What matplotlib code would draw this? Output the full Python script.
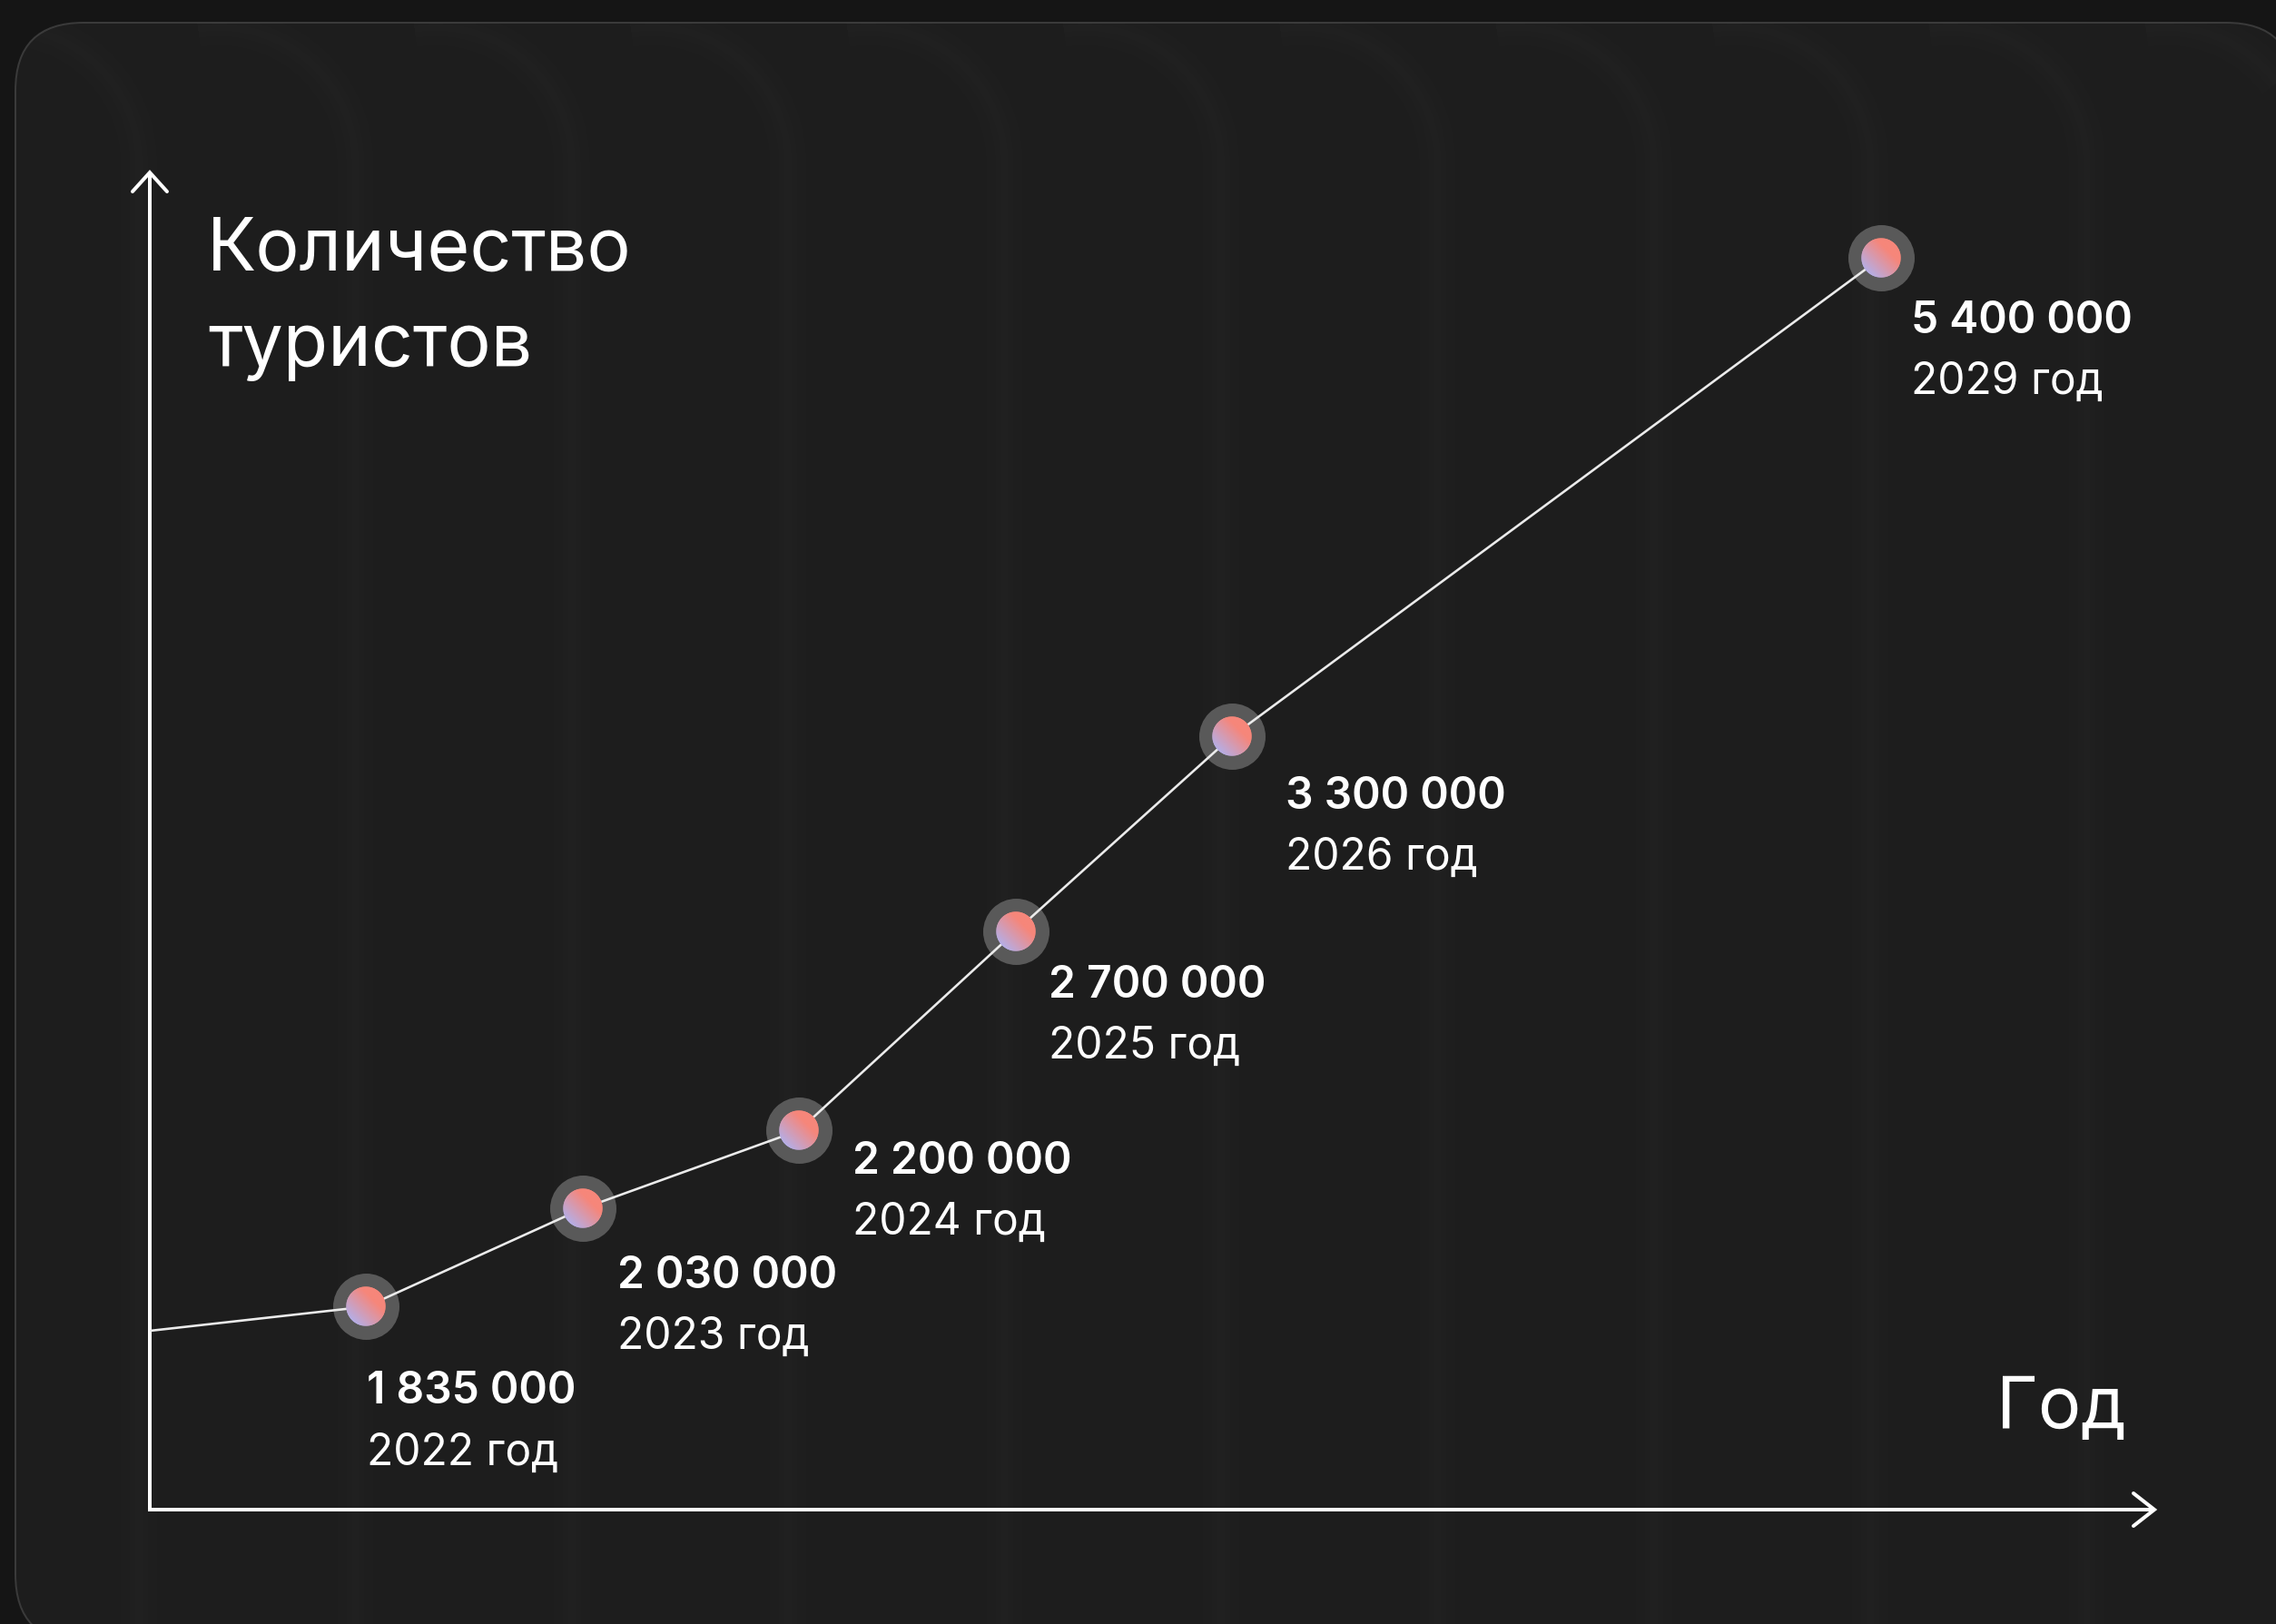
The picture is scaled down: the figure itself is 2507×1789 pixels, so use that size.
import matplotlib
matplotlib.use("Agg")
import matplotlib.pyplot as plt
from matplotlib.patches import FancyBboxPatch
from matplotlib.offsetbox import OffsetImage, AnnotationBbox
import numpy as np

# data
years = [2022, 2023, 2024, 2025, 2026, 2029]
tourists = [1835000, 2030000, 2200000, 2700000, 3300000, 5400000]
# the line begins on the vertical axis, a bit below the first point
start_year = 2021
start_value = 1790000
value_labels = [f"{v:,}".replace(",", " ") for v in tourists]
year_labels = [f"{y} год" for y in years]
y_title = ["Количество", "туристов"]
x_title = "Год"

# layout: label offsets from each point in pixels (right, down to baseline)
label_offsets = [(1, 107), (38, 88), (59, 48), (36, 73), (59, 80), (33, 83)]
year_line_gap = 67

W, H, DPI = 2507, 1789, 100
PT = DPI / 72.0

BG = "#151515"
PANEL = "#1d1d1d"
WHITE = "#ffffff"
LINE = "#ebebeb"
HALO = "#595959"
CORAL = np.array([246, 134, 122]) / 255.0
LAVENDER = np.array([168, 182, 252]) / 255.0

plt.rcParams["font.family"] = ["Inter", "DejaVu Sans"]

fig = plt.figure(figsize=(W / DPI, H / DPI), dpi=DPI, facecolor=BG)

# background layer in pixel coordinates
bg = fig.add_axes([0, 0, 1, 1], zorder=0)
bg.set_xlim(0, W)
bg.set_ylim(H, 0)
bg.axis("off")

# chart layer
ax = fig.add_axes([0, 0, 1, 1], zorder=1)
ax.patch.set_alpha(0)
ax.set_yscale("log")
ax.set_xlim(2020.308, 2030.824)
ax.set_ylim(1.3238e6, 7.0405e6)
ax.axis("off")


def to_px(x, y):
    # chart data -> background pixel coords (origin top-left)
    dx, dy = ax.transData.transform((x, y))
    return dx, H - dy


panel = FancyBboxPatch((17, 25), W + 20 - 17, H + 20 - 25,
                       boxstyle="round,pad=0,rounding_size=75",
                       fc=PANEL, ec="#3a3a3a", lw=2 / PT, zorder=0)
bg.add_patch(panel)

# faint glass ribs: a soft right edge with a rounded top at each year step
R, top = 150, 30
theta = np.linspace(np.pi * 0.55, 0, 40)
for yr in range(2021, 2032):
    xe = to_px(yr, 2e6)[0] - 12
    rx = np.concatenate([xe - R + R * np.cos(theta), [xe]])
    ry = np.concatenate([top + R - R * np.sin(theta), [H + 50]])
    for lw, a in [(40, 0.007), (20, 0.008), (8, 0.008)]:
        ln, = bg.plot(rx, ry, color=WHITE, alpha=a, lw=lw / PT,
                      solid_capstyle="butt", zorder=1)
        ln.set_clip_path(panel)

# axes with arrow heads
x0, _ = to_px(start_year, start_value)
y_bottom, y_top, x_right = 1663, 190, 2373
axis_lw = 4 / PT
bg.plot([x0, x0, x_right], [y_top, y_bottom, y_bottom], color=WHITE,
        lw=axis_lw, solid_joinstyle="miter", solid_capstyle="butt", zorder=3)
bg.plot([x0 - 19, x0, x0 + 19], [y_top + 21, y_top, y_top + 21], color=WHITE,
        lw=axis_lw, solid_joinstyle="miter", solid_capstyle="round", zorder=3)
bg.plot([x_right - 23, x_right, x_right - 23], [y_bottom - 18, y_bottom, y_bottom + 18],
        color=WHITE, lw=axis_lw, solid_joinstyle="miter", solid_capstyle="round", zorder=3)

# titles
bg.text(228, 298, y_title[0], color=WHITE, fontsize=58, va="baseline", ha="left")
bg.text(229, 403, y_title[1], color=WHITE, fontsize=58, va="baseline", ha="left")
bg.text(2199, 1573, x_title, color=WHITE, fontsize=57, va="baseline", ha="left")

# line, halos and gradient dots
ax.plot([start_year] + years, [start_value] + tourists, color=LINE,
        lw=2.6 / PT, zorder=3, solid_capstyle="butt")
ax.scatter(years, tourists, s=(73 / PT) ** 2, color=HALO, linewidths=0, zorder=2)

n = 96
yy, xx = np.mgrid[0:n, 0:n]
c = (n - 1) / 2.0
r = np.hypot(xx - c, yy - c)
alpha = np.clip(n / 2.0 - r, 0, 1)
t = np.clip(0.72 + ((xx - c) - (yy - c)) / n * 0.8, 0, 1)
dot = np.zeros((n, n, 4))
for k in range(3):
    dot[..., k] = LAVENDER[k] * (1 - t) + CORAL[k] * t
dot[..., 3] = alpha

for yr, val in zip(years, tourists):
    img = OffsetImage(dot, zoom=44 / n, dpi_cor=False, interpolation="bilinear")
    ab = AnnotationBbox(img, (yr, val), xycoords="data", frameon=False,
                        pad=0, box_alignment=(0.5, 0.5), zorder=5)
    ax.add_artist(ab)

# value and year labels
for yr, val, vl, yl, (dx, dy) in zip(years, tourists, value_labels, year_labels, label_offsets):
    ax.annotate(vl, (yr, val), xytext=(dx / PT, -dy / PT), textcoords="offset points",
                color=WHITE, fontsize=34.5, fontweight="semibold",
                ha="left", va="baseline", zorder=6)
    ax.annotate(yl, (yr, val), xytext=(dx / PT, -(dy + year_line_gap) / PT),
                textcoords="offset points", color=WHITE, fontsize=34.5,
                fontweight="normal", ha="left", va="baseline", zorder=6)

fig.savefig("out.png", dpi=DPI, facecolor=BG)
